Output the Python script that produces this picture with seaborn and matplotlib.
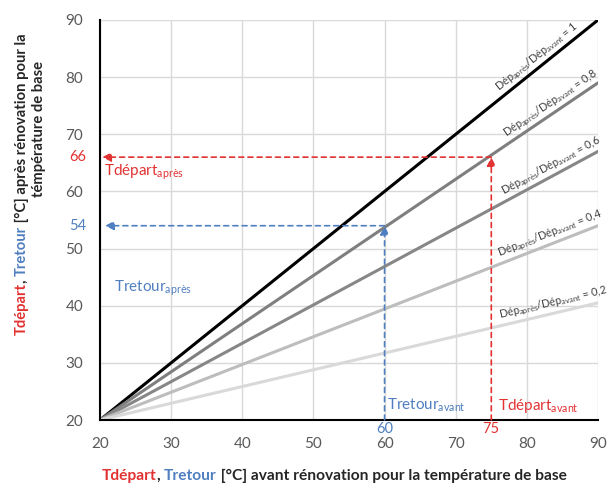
import numpy as np
import pandas as pd
import matplotlib
matplotlib.use("Agg")
import matplotlib.pyplot as plt
import seaborn as sns

# ratios Dep_apres / Dep_avant and line end values
ratios = ['1', '0,8', '0,6', '0,4', '0,2']
x_vals = [20, 90]
y_start = [20, 20, 20, 20, 20]
y_end = [90, 79, 67, 54, 40.5]
line_colors = ['#000000', '#7f7f7f', '#878787', '#bdbdbd', '#d9d9d9']

# example points
tdep_avant, tdep_apres = 75, 66
tret_avant, tret_apres = 60, 54

ticks = [20, 30, 40, 50, 60, 70, 80, 90]

rows = []
for r, y0, y1 in zip(ratios, y_start, y_end):
    rows.append({'ratio': r, 'x': x_vals[0], 'y': y0})
    rows.append({'ratio': r, 'x': x_vals[1], 'y': y1})
df = pd.DataFrame(rows)

sns.set_theme(style="whitegrid")
plt.rcParams['font.family'] = ['Lato', 'DejaVu Sans']
plt.rcParams['mathtext.default'] = 'regular'

RED = '#e23232'
BLUE = '#4f7fc0'
GREY = '#595959'
DARK = '#262626'

fig = plt.figure(figsize=(6.13, 4.88), dpi=100)
ax = fig.add_axes([100/613, 68/488, 498/613, 400/488])

sns.lineplot(data=df, x='x', y='y', hue='ratio', hue_order=ratios,
             palette=dict(zip(ratios, line_colors)), linewidth=2.2,
             legend=False, ax=ax)

ax.set_xlim(20, 90)
ax.set_ylim(20, 90)
ax.set_xticks(ticks)
ax.set_yticks(ticks)
ax.set_xlabel('')
ax.set_ylabel('')
ax.grid(True, color='#d9d9d9', linewidth=1)
for s in ['top', 'right']:
    ax.spines[s].set_visible(False)
for s in ['left', 'bottom']:
    ax.spines[s].set_color('black')
    ax.spines[s].set_linewidth(1.5)
ax.tick_params(axis='both', length=0, labelsize=11, labelcolor=GREY)
ax.tick_params(axis='x', pad=12)
ax.tick_params(axis='y', pad=12)

# labels along the lines
label_x = [76.5, 77.5, 77.0, 76.3, 76.3]
for r, y0, y1, lx in zip(ratios, y_start, y_end, label_x):
    slope = (y1 - y0) / (x_vals[1] - x_vals[0])
    ly = np.interp(lx, x_vals, [y0, y1])
    ax.text(lx, ly + 0.4, r'Dép$_{après}$/Dép$_{avant}$ = ' + r,
            rotation=np.degrees(np.arctan(slope)), transform_rotates_text=True,
            rotation_mode='anchor', ha='left', va='bottom',
            fontsize=7.8, color='#404040')

# dashed arrows
def arrow(x0, y0, x1, y1, c):
    ax.annotate('', xy=(x1, y1), xytext=(x0, y0),
                arrowprops=dict(arrowstyle='-|>', color=c, lw=1.2,
                                linestyle=(0, (3, 2.5)), mutation_scale=13,
                                shrinkA=0, shrinkB=0))

arrow(tdep_avant, 20, tdep_avant, tdep_apres, RED)
arrow(tdep_avant, tdep_apres, 20.3, tdep_apres, RED)
arrow(tret_avant, 20, tret_avant, tret_apres, BLUE)
arrow(tret_avant, tret_apres, 20.7, tret_apres, BLUE)

# values on the axes
ax.text(-0.028, tdep_apres, str(tdep_apres), transform=ax.get_yaxis_transform(),
        ha='right', va='center', fontsize=10.5, color=RED)
ax.text(-0.028, tret_apres, str(tret_apres), transform=ax.get_yaxis_transform(),
        ha='right', va='center', fontsize=10.5, color=BLUE)
ax.text(tdep_avant, -0.005, str(tdep_avant), transform=ax.get_xaxis_transform(),
        ha='center', va='top', fontsize=10.5, color=RED)
ax.text(tret_avant, -0.005, str(tret_avant), transform=ax.get_xaxis_transform(),
        ha='center', va='top', fontsize=10.5, color=BLUE)

# names
ax.text(20.6, 63.3, r'Tdépart$_{après}$', color=RED, fontsize=11, va='center')
ax.text(22.0, 43.0, r'Tretour$_{après}$', color=BLUE, fontsize=11, va='center')
ax.text(60.3, 22.6, r'Tretour$_{avant}$', color=BLUE, fontsize=11, va='center')
ax.text(76.0, 22.4, r'Tdépart$_{avant}$', color=RED, fontsize=11, va='center')


# multi-coloured axis titles, pieces chained one after the other
def chain(x, y, parts, vertical=False, size=10):
    rot = 90 if vertical else 0
    xy = (0, 1) if vertical else (1, 0)
    prev = fig.text(x, y, parts[0][0], color=parts[0][1], fontsize=size,
                    fontweight='bold', rotation=rot, ha='left', va='bottom')
    for s, c in parts[1:]:
        prev = ax.annotate(s, xycoords=prev, xy=xy, color=c, fontsize=size,
                           fontweight='bold', rotation=rot, ha='left',
                           va='bottom', annotation_clip=False)


chain(102/613, 5/488, [('Tdépart', RED), (', ', DARK), ('Tretour', BLUE),
                       (' [°C] avant rénovation pour la température de base', DARK)],
      size=11.2)
chain(15/613, 153/488, [('Tdépart', RED), (', ', DARK), ('Tretour', BLUE),
                        (' [°C] après rénovation pour la', DARK)],
      vertical=True, size=10.6)
chain(32/613, 291/488, [('témpérature de base', DARK)], vertical=True, size=10.6)

fig.savefig('out.png', dpi=100)
